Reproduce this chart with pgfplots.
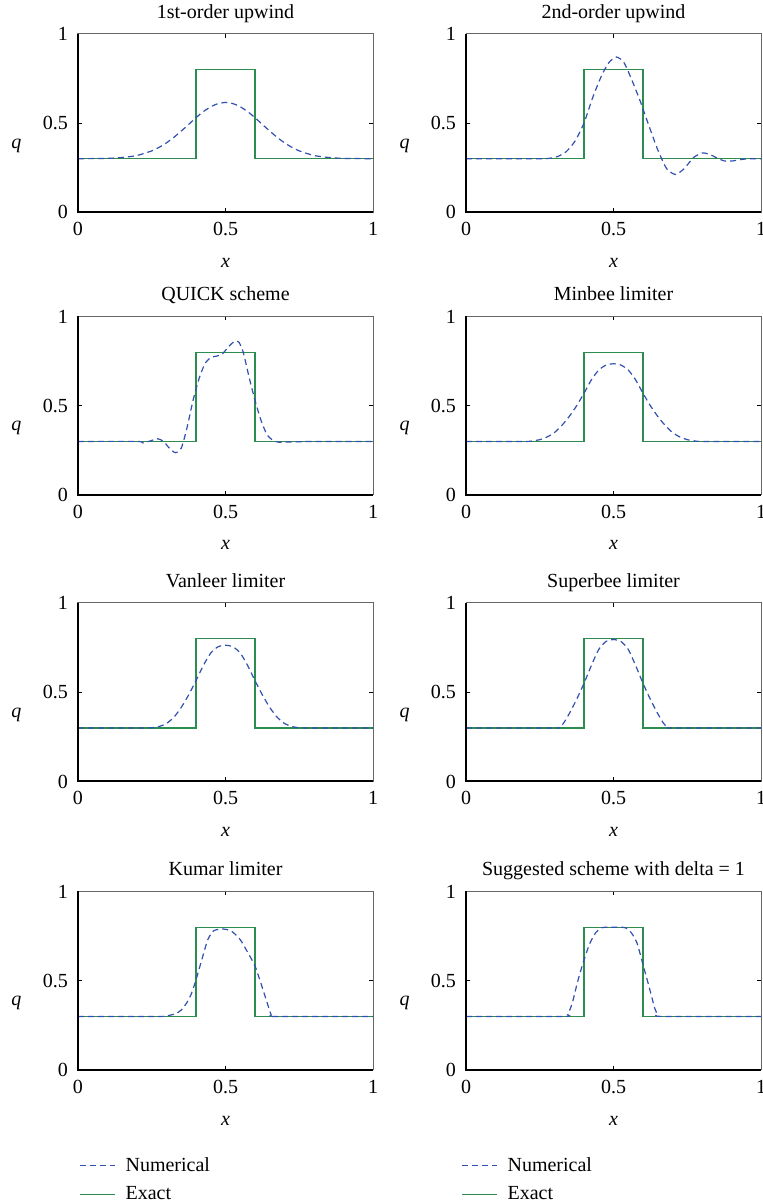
\documentclass[border=0pt]{standalone}
\usepackage{fontspec}
\setmainfont{Liberation Serif}
\usepackage{pgfplots}
\pgfplotsset{compat=1.18}
\definecolor{exactcol}{RGB}{45,140,80}
\definecolor{numcol}{RGB}{50,80,175}

\tikzset{
  exactline/.style={color=exactcol, line width=0.6pt},
  numline/.style={color=numcol, line width=0.6pt, dash pattern=on 3pt off 2pt},
}

\pgfplotsset{
  panel/.style={
    scale only axis, width=147.5pt, height=89.25pt,
    anchor=south west,
    xmin=0, xmax=1, ymin=0, ymax=1,
    xtick={0,0.5,1}, ytick={0,0.5,1},
    tick align=inside, major tick length=2pt,
    tick style={black, line width=0.5pt},
    axis line style={draw=black!60, line width=0.5pt},
    /pgf/number format/assume math mode=true,
    tick label style={font=\fontsize{10}{12}\selectfont},
    xticklabel style={yshift=-1.5pt},
    yticklabel style={xshift=-1.5pt},
    every axis title/.style={at={(axis description cs:0.5,1)}, anchor=base,
      yshift=7.75pt, font=\fontsize{10}{12}\selectfont},
    xlabel={\textit{x}}, ylabel={\textit{q}},
    label style={font=\fontsize{10}{12}\selectfont},
    every axis x label/.style={at={(axis description cs:0.5,0)}, anchor=base, yshift=-27.5pt},
    every axis y label/.style={at={(axis description cs:0,0.36)}, anchor=base, xshift=-30.75pt},
    after end axis/.code={
      \draw[black, line width=1pt] (rel axis cs:0,1) -- (rel axis cs:0,0) -- (rel axis cs:1,0);
    },
  },
  bottom legend/.style={
    legend style={at={(axis description cs:0,0)}, anchor=north west,
      yshift=-39.5pt, xshift=#1, draw=none, fill=none,
      font=\fontsize{10}{12}\selectfont, row sep=2pt, column sep=3pt},
    legend image code/.code={\draw[##1] (0pt,0pt) -- (17.5pt,0pt);},
    reverse legend, legend cell align=left,
  },
}

\begin{document}
\begin{tikzpicture}

% row 1
\begin{axis}[panel, at={(39pt,495.85pt)}, title={1st-order upwind}]
\addplot[exactline] coordinates {(0,0.3) (0.4,0.3) (0.4,0.8) (0.6,0.8) (0.6,0.3) (1,0.3)};
\addplot[numline, smooth, tension=0.4] coordinates {
  (0,0.3) (0.1,0.302) (0.15,0.307) (0.2,0.318) (0.25,0.344) (0.275,0.364)
  (0.3,0.389) (0.325,0.420) (0.35,0.455) (0.375,0.492) (0.4,0.530) (0.425,0.564)
  (0.45,0.591) (0.475,0.609) (0.5,0.615) (0.525,0.609) (0.55,0.591) (0.575,0.564)
  (0.6,0.530) (0.625,0.492) (0.65,0.455) (0.675,0.420) (0.7,0.389) (0.725,0.364)
  (0.75,0.344) (0.8,0.318) (0.85,0.307) (0.9,0.302) (1,0.3)};
\end{axis}

\begin{axis}[panel, at={(233pt,495.85pt)}, title={2nd-order upwind}]
\addplot[exactline] coordinates {(0,0.3) (0.4,0.3) (0.4,0.8) (0.6,0.8) (0.6,0.3) (1,0.3)};
\addplot[numline, smooth, tension=0.4] coordinates {
  (0,0.3) (0.25,0.3) (0.28,0.302) (0.31,0.312) (0.34,0.34) (0.37,0.40) (0.4,0.50)
  (0.43,0.645) (0.46,0.767) (0.485,0.84) (0.51,0.87) (0.535,0.84) (0.56,0.75)
  (0.59,0.625) (0.62,0.485) (0.65,0.35) (0.68,0.245) (0.71,0.212) (0.74,0.245)
  (0.77,0.305) (0.8,0.332) (0.825,0.325) (0.85,0.305) (0.875,0.288) (0.9,0.287)
  (0.93,0.295) (0.96,0.3) (1,0.3)};
\end{axis}

% row 2
\begin{axis}[panel, at={(39pt,354.5pt)}, title={QUICK scheme}]
\addplot[exactline] coordinates {(0,0.3) (0.4,0.3) (0.4,0.8) (0.6,0.8) (0.6,0.3) (1,0.3)};
\addplot[numline, smooth, tension=0.4] coordinates {
  (0,0.3) (0.2,0.3) (0.22,0.292) (0.245,0.303) (0.27,0.315) (0.29,0.30) (0.31,0.262)
  (0.33,0.237) (0.35,0.262) (0.37,0.38) (0.39,0.53) (0.41,0.65) (0.43,0.735)
  (0.45,0.77) (0.47,0.778) (0.49,0.792) (0.51,0.83) (0.53,0.86) (0.545,0.857)
  (0.56,0.80) (0.58,0.66) (0.6,0.53) (0.62,0.42) (0.64,0.34) (0.66,0.307)
  (0.68,0.296) (0.72,0.297) (0.8,0.3) (1,0.3)};
\end{axis}

\begin{axis}[panel, at={(233pt,354.5pt)}, title={Minbee limiter}]
\addplot[exactline] coordinates {(0,0.3) (0.4,0.3) (0.4,0.8) (0.6,0.8) (0.6,0.3) (1,0.3)};
\addplot[numline, smooth, tension=0.4] coordinates {
  (0,0.3) (0.2,0.3) (0.225,0.303) (0.25,0.31) (0.275,0.325) (0.3,0.35) (0.325,0.39)
  (0.35,0.44) (0.375,0.50) (0.4,0.57) (0.425,0.645) (0.45,0.70) (0.475,0.728)
  (0.5,0.735) (0.525,0.728) (0.55,0.70) (0.575,0.645) (0.6,0.57) (0.625,0.50)
  (0.65,0.44) (0.675,0.39) (0.7,0.35) (0.725,0.325) (0.75,0.31) (0.775,0.303)
  (0.8,0.3) (1,0.3)};
\end{axis}

% row 3
\begin{axis}[panel, at={(39pt,211.25pt)}, title={Vanleer limiter}]
\addplot[exactline] coordinates {(0,0.3) (0.4,0.3) (0.4,0.8) (0.6,0.8) (0.6,0.3) (1,0.3)};
\addplot[numline, smooth, tension=0.4] coordinates {
  (0,0.3) (0.2,0.3) (0.25,0.301) (0.275,0.308) (0.3,0.325) (0.325,0.36) (0.35,0.415)
  (0.375,0.485) (0.4,0.565) (0.425,0.65) (0.45,0.72) (0.475,0.755) (0.5,0.763)
  (0.525,0.755) (0.55,0.72) (0.575,0.65) (0.6,0.565) (0.625,0.485) (0.65,0.415)
  (0.675,0.36) (0.7,0.325) (0.725,0.308) (0.75,0.301) (0.8,0.3) (1,0.3)};
\end{axis}

\begin{axis}[panel, at={(233pt,211.25pt)}, title={Superbee limiter}]
\addplot[exactline] coordinates {(0,0.3) (0.4,0.3) (0.4,0.8) (0.6,0.8) (0.6,0.3) (1,0.3)};
\addplot[numline, smooth, tension=0.4] coordinates {
  (0,0.3) (0.3,0.3) (0.315,0.302) (0.33,0.325) (0.35,0.38) (0.375,0.46) (0.4,0.55)
  (0.425,0.65) (0.45,0.74) (0.475,0.785) (0.5,0.795) (0.525,0.785) (0.55,0.74)
  (0.575,0.65) (0.6,0.55) (0.625,0.46) (0.65,0.38) (0.67,0.325) (0.685,0.302)
  (0.7,0.3) (1,0.3)};
\end{axis}

% row 4
\begin{axis}[panel, at={(39pt,67pt)}, title={Kumar limiter}, bottom legend=-2.5pt]
\addplot[exactline] coordinates {(0,0.3) (0.4,0.3) (0.4,0.8) (0.6,0.8) (0.6,0.3) (1,0.3)};
\addlegendentry{Exact}
\addplot[numline, smooth, tension=0.4] coordinates {
  (0,0.3) (0.27,0.3) (0.3,0.303) (0.33,0.315) (0.35,0.336) (0.37,0.38) (0.385,0.43)
  (0.4,0.505) (0.42,0.62) (0.44,0.73) (0.46,0.78) (0.49,0.79) (0.52,0.778)
  (0.55,0.73) (0.58,0.645) (0.6,0.583) (0.62,0.486) (0.64,0.383) (0.655,0.308)
  (0.665,0.3) (1,0.3)};
\addlegendentry{Numerical}
\end{axis}

\begin{axis}[panel, at={(233pt,67pt)}, title={Suggested scheme with delta = 1}, bottom legend=-5.5pt]
\addplot[exactline] coordinates {(0,0.3) (0.4,0.3) (0.4,0.8) (0.6,0.8) (0.6,0.3) (1,0.3)};
\addlegendentry{Exact}
\addplot[numline, smooth, tension=0.4] coordinates {
  (0,0.3) (0.33,0.3) (0.345,0.312) (0.36,0.374) (0.38,0.505) (0.4,0.617) (0.42,0.71)
  (0.44,0.77) (0.46,0.797) (0.48,0.8) (0.5,0.8) (0.52,0.8) (0.54,0.797) (0.56,0.77)
  (0.58,0.71) (0.6,0.59) (0.62,0.47) (0.64,0.345) (0.65,0.312) (0.665,0.3) (1,0.3)};
\addlegendentry{Numerical}
\end{axis}

\pgfresetboundingbox
\path (0pt,0pt) rectangle (381pt,602pt);
\end{tikzpicture}
\end{document}
